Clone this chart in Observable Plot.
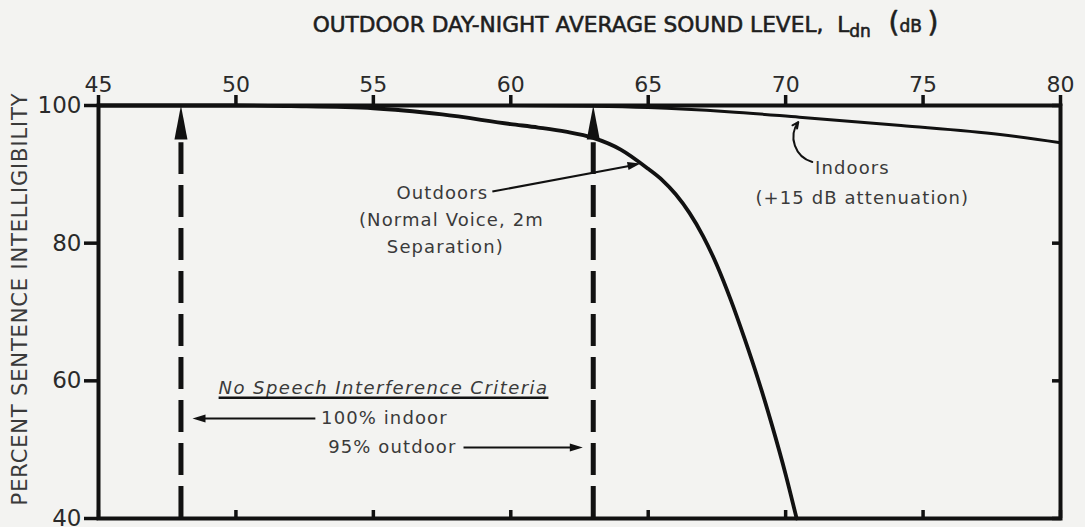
<!DOCTYPE html>
<html><head><meta charset="utf-8">
<script src="https://cdn.jsdelivr.net/npm/d3@7"></script>
<script src="https://cdn.jsdelivr.net/npm/@observablehq/plot@0.6"></script>
<style>
html,body{margin:0;padding:0;background:#f3f3f1;}
#chart svg{display:block;background:#f3f3f1;}
</style></head><body><div id="chart"></div>
<script>
// ---- data ----
const xTicks = [45, 50, 55, 60, 65, 70, 75, 80];
const yTicks = [40, 60, 80, 100];
const outdoorDb  = [45, 50, 52, 55, 57.5, 60, 61, 62, 63, 64, 65, 65.5, 66, 66.5, 67, 67.5, 68, 68.5, 69, 69.5, 70, 70.4];
const outdoorPct = [100, 100, 99.9, 99.6, 98.7, 97.3, 96.8, 96.2, 95.3, 93.6, 90.8, 89.2, 87.1, 84.4, 81.0, 76.8, 71.8, 66.2, 60.2, 53.6, 46.4, 40];
const indoorDb  = [45, 55, 60, 63, 65, 67.9, 70.5, 74.2, 77.8, 80];
const indoorPct = [100, 100, 100, 99.9, 99.7, 99.1, 98.3, 97.1, 95.8, 94.6];
const criteriaDb = [48, 63];
const titleText = "OUTDOOR DAY-NIGHT AVERAGE SOUND LEVEL, Ldn (dB )";
const yLabelText = "PERCENT SENTENCE INTELLIGIBILITY";
const noteTexts = ["Outdoors", "(Normal Voice, 2m", "Separation)", "Indoors", "(+15 dB attenuation)", "100% indoor", "95% outdoor"];
const criteriaTitle = "No Speech Interference Criteria";

// ---- tables built from the arrays ----
const outdoor = outdoorDb.map((x, i) => ({x, y: outdoorPct[i]}));
const indoor = indoorDb.map((x, i) => ({x, y: indoorPct[i]}));
// annotation anchors (data units)
const notes = [
  {x: 57.51, y: 87.2}, {x: 57.84, y: 83.3}, {x: 57.62, y: 79.4},
  {x: 72.43, y: 90.85}, {x: 72.79, y: 86.5},
  {x: 55.40, y: 54.53}, {x: 55.69, y: 50.31}
].map((d, i) => ({...d, text: noteTexts[i]}));
const links = [
  {x1: 59.33, y1: 87.5, x2: 64.5, y2: 91.35},
  {x1: 52.89, y1: 54.53, x2: 48.6, y2: 54.53},
  {x1: 58.28, y1: 50.31, x2: 62.45, y2: 50.31}
];
const heads = [
  {x: 64.72, y: 91.57, rot: 79},
  {x: 48.42, y: 54.53, rot: -90},
  {x: 62.62, y: 50.31, rot: 90}
];

const bigHead = {draw(c) { c.moveTo(0, 0); c.lineTo(6.5, 34); c.lineTo(-6.5, 34); c.closePath(); }};
const smallHead = {draw(c) { c.moveTo(0, 0); c.lineTo(4, 13); c.lineTo(-4, 13); c.closePath(); }};

const ink = "#111";
const txt = "#3a3a3a";
const fam = "DejaVu Sans, Liberation Sans, sans-serif";

const plot = Plot.plot({
  width: 1085, height: 527,
  marginTop: 105, marginLeft: 98, marginRight: 25, marginBottom: 9,
  style: {fontFamily: fam, background: "#f3f3f1", color: txt},
  x: {domain: [45, 80]},
  y: {domain: [40, 100]},
  marks: [
    Plot.axisX({anchor: "top", ticks: xTicks, tickSize: 11, tickPadding: 3, fontSize: 22, strokeWidth: 3.5, stroke: ink, fill: "#2a2a2a", label: null}),
    Plot.axisX({anchor: "bottom", ticks: xTicks, tickSize: -8, tickFormat: () => "", strokeWidth: 3.5, stroke: ink, label: null}),
    Plot.axisY({anchor: "left", ticks: yTicks, tickSize: 14, tickPadding: 3, fontSize: 23, strokeWidth: 3.5, stroke: ink, fill: "#2a2a2a", label: null}),
    Plot.axisY({anchor: "right", ticks: yTicks, tickSize: -9, tickFormat: () => "", strokeWidth: 3.5, stroke: ink, label: null}),
    Plot.frame({stroke: ink, strokeWidth: 4}),
    Plot.line(indoor, {x: "x", y: "y", stroke: ink, strokeWidth: 3, curve: "monotone-x"}),
    Plot.line(outdoor, {x: "x", y: "y", stroke: ink, strokeWidth: 3.8, curve: "monotone-x"}),
    Plot.ruleX(criteriaDb, {x: d => d, y1: 40, y2: 94.6, stroke: ink, strokeWidth: 5, strokeDasharray: "32,11"}),
    Plot.dot(criteriaDb, {x: d => d, y: 100, symbol: bigHead, fill: ink, stroke: "none", r: 5}),
    Plot.link(links, {x1: "x1", y1: "y1", x2: "x2", y2: "y2", stroke: ink, strokeWidth: 2}),
    Plot.dot(heads, {x: "x", y: "y", rotate: "rot", symbol: smallHead, fill: ink, stroke: "none", r: 4}),
    Plot.arrow([0], {x1: 70.97, y1: 91.8, x2: 70.46, y2: 97.6, bend: 55, stroke: ink, strokeWidth: 2, headLength: 5, headAngle: 50}),
    Plot.text(notes, {x: "x", y: "y", text: "text", fontSize: 18, fill: txt, textAnchor: "middle", lineAnchor: "middle"}),
    Plot.text([criteriaTitle], {x: 55.37, y: 58.9, text: d => d, fontSize: 18, fontStyle: "italic", fill: txt, textAnchor: "middle", lineAnchor: "middle"}),
    Plot.link([criteriaTitle], {x1: 49.37, x2: 61.37, y1: 57.55, y2: 57.55, stroke: ink, strokeWidth: 2.5}),
    Plot.text([titleText], {frameAnchor: "top", dx: 46, dy: -80, text: d => d, fontSize: 21.7, fill: "#1e1e1e", stroke: "#1e1e1e", strokeWidth: 0.6, textAnchor: "middle", lineAnchor: "middle"}),
    Plot.text([yLabelText], {frameAnchor: "left", rotate: -90, dx: -78, dy: -13, text: d => d, fontSize: 21, fill: txt, textAnchor: "middle", lineAnchor: "middle"})
  ]
});
document.getElementById("chart").appendChild(plot);

const texts = d3.select(plot).selectAll("text");
// letter spacing to match the wide typewriter-like lettering
const spacing = new Map([...noteTexts.map(s => [s, 1.1]), [criteriaTitle, 1.45], [yLabelText, 0.85]]);
texts.each(function() {
  const s = spacing.get(this.textContent);
  if (s != null) this.setAttribute("letter-spacing", s);
});

// subscript and parentheses in the title
texts.filter(function() { return this.textContent === titleText; })
  .each(function() {
    const t = d3.select(this);
    t.text(null);
    t.append("tspan").text("OUTDOOR DAY-NIGHT AVERAGE SOUND LEVEL,  L");
    t.append("tspan").attr("font-size", 17).attr("dy", 5).text("dn");
    t.append("tspan").attr("font-size", 28).attr("dy", -5).text("  (");
    t.append("tspan").attr("font-size", 17).text("dB ");
    t.append("tspan").attr("font-size", 28).text(")");
  });
</script></body></html>
